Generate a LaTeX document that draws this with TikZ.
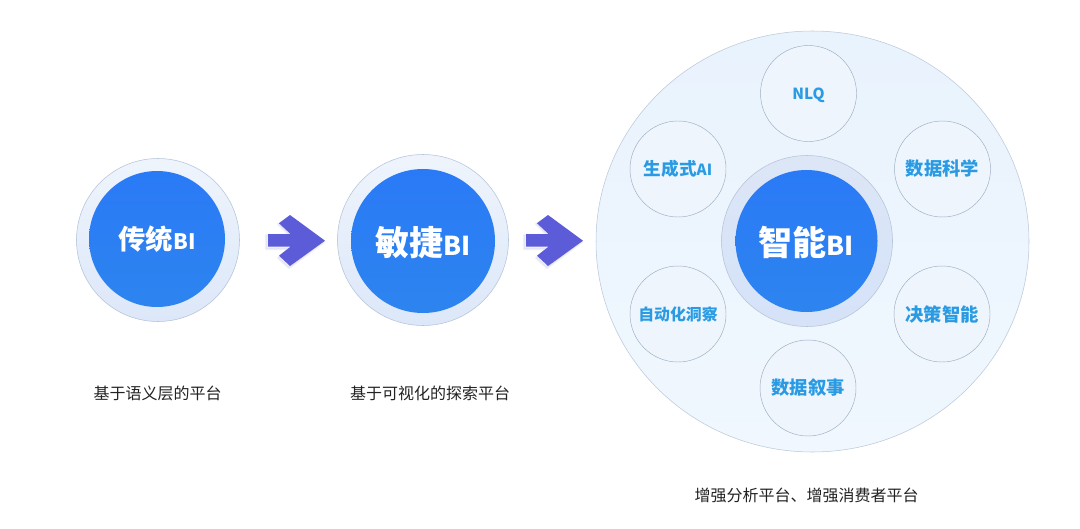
\documentclass[tikz,border=0pt]{standalone}
\usepackage{fontspec}
\usetikzlibrary{shapes.geometric}
\setmainfont{Noto Sans CJK SC}
\definecolor{ringline}{HTML}{B4C3D8}
\definecolor{ringfill}{HTML}{E8F0FB}
\definecolor{ringlow}{HTML}{DCE7F9}
\definecolor{ringctop}{HTML}{DCE6F6}
\definecolor{ringclow}{HTML}{D5E2F8}
\definecolor{coretop}{HTML}{2A7AF6}
\definecolor{corelow}{HTML}{2D84EF}
\definecolor{bigtop}{HTML}{E9F3FD}
\definecolor{biglow}{HTML}{F0F7FE}
\definecolor{bigline}{HTML}{BCC9DA}
\definecolor{satline}{HTML}{9FAEC0}
\definecolor{satfill}{HTML}{EEF5FD}
\definecolor{sattext}{HTML}{2A9BE3}
\definecolor{arrowfill}{HTML}{5C5BD8}
\definecolor{arrowshade}{HTML}{8E8EC8}
\definecolor{captiontext}{HTML}{222222}
\tikzset{
  x=0.75pt,y=-0.75pt,
  ring/.style={circle,minimum size=#1*0.75pt,inner sep=0pt,draw=ringline,line width=0.4pt,top color=ringfill!70!white,bottom color=ringlow},
  ringdark/.style={circle,minimum size=#1*0.75pt,inner sep=0pt,draw=ringline,line width=0.4pt,top color=ringctop,bottom color=ringclow},
  core/.style={circle,minimum size=#1*0.75pt,inner sep=0pt,top color=coretop,bottom color=corelow,text=white,font=\bfseries},
  bigdisc/.style={ellipse,minimum width=433*0.75pt,minimum height=421*0.75pt,inner sep=0pt,draw=bigline,line width=0.4pt,top color=bigtop,bottom color=biglow},
  sat/.style={circle,minimum size=96*0.75pt,inner sep=0pt,draw=satline,line width=0.35pt,fill=satfill,text=sattext,font=\bfseries\fontsize{13.7}{13.7}\selectfont},
  caption/.style={text=captiontext,inner sep=0pt,font=\fontsize{12}{12}\selectfont},
  arrowbody/.style={fill=arrowfill},
  arrowsoft/.style={fill=arrowshade,opacity=#1,line join=round,draw=arrowshade,line width=1.6pt},
}
\newcommand{\bigarrow}[1]{%
  \begin{scope}[shift={(#1,0)}]
    \filldraw[arrowsoft=0.12] (-2,235) -- (21,235) -- (10,224) -- (21,217) -- (56,242) -- (21,268) -- (10,258) -- (21,249) -- (-2,249) -- cycle;
    \fill[arrowbody] (0,234) -- (22.5,234) -- (11,223.3) -- (22,215) -- (57,240.7) -- (22,266) -- (11,255.7) -- (22.5,246.7) -- (0,246.7) -- cycle;
  \end{scope}}
\begin{document}
\begin{tikzpicture}
\useasboundingbox (0,0) rectangle (1080,528);
\fill[white] (0,0) rectangle (1080,528);
\node[ring=163] (ringa) at (158,240) {};
\node[core=136] (corea) at (157,239) {\fontsize{20.5}{20.5}\selectfont 传统\fontsize{16}{16}\selectfont BI};
\node[ring=171] (ringb) at (423,240) {};
\node[core=144] (coreb) at (423,241) {\raisebox{-11pt}[0pt][0pt]{\fontsize{25.5}{25.5}\selectfont 敏捷\fontsize{19.5}{19.5}\selectfont BI}};
\bigarrow{268}
\bigarrow{526}
\node[bigdisc] (big) at (812.5,241.5) {};
\node[ringdark=171] (ringc) at (807,241) {};
\node[core=142] (corec) at (806.5,241) {\raisebox{-11pt}[0pt][0pt]{\fontsize{25.5}{25.5}\selectfont 智能\fontsize{19.5}{19.5}\selectfont BI}};
\node[sat] (nlq) at (808.5,93.5) {\raisebox{-4.2pt}[0pt][0pt]{\fontsize{11.5}{11.5}\selectfont NLQ}};
\node[sat] (gen) at (678,169) {\fontsize{13.2}{13.2}\selectfont 生成式\fontsize{11.5}{11.5}\selectfont AI};
\node[sat] (sci) at (942.5,169) {数据科学};
\node[sat] (auto) at (678,314) {\fontsize{11.9}{11.9}\selectfont 自动化洞察};
\node[sat] (dec) at (942,314) {决策智能};
\node[sat] (story) at (808,388) {数据叙事};
\node[caption] (capa) at (157.5,393) {基于语义层的平台};
\node[caption] (capb) at (430,393) {基于可视化的探索平台};
\node[caption] (capc) at (806.5,495) {增强分析平台、增强消费者平台};
\end{tikzpicture}
\end{document}
